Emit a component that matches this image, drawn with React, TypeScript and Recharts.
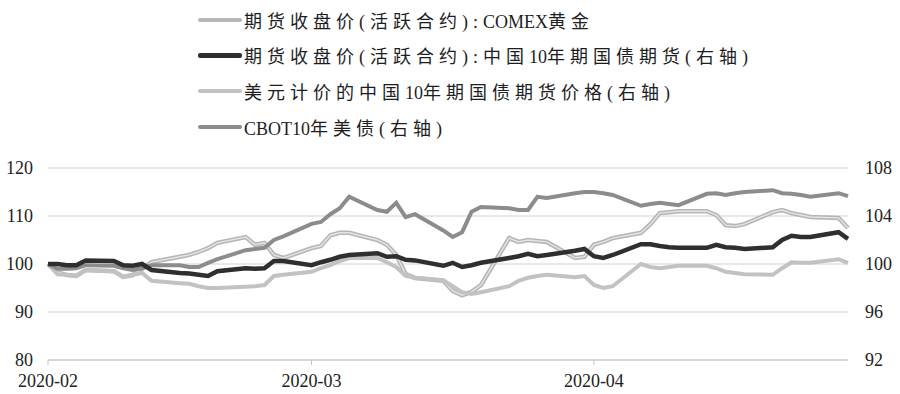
import { LineChart, Line, XAxis, YAxis, CartesianGrid } from 'recharts';

// trading days shown on the chart
const dates = [
  '2020-02-03', '2020-02-04', '2020-02-05', '2020-02-06', '2020-02-07',
  '2020-02-10', '2020-02-11', '2020-02-12', '2020-02-13', '2020-02-14',
  '2020-02-17', '2020-02-18', '2020-02-19', '2020-02-20', '2020-02-21',
  '2020-02-24', '2020-02-25', '2020-02-26', '2020-02-27', '2020-02-28',
  '2020-03-02', '2020-03-03', '2020-03-04', '2020-03-05', '2020-03-06',
  '2020-03-09', '2020-03-10', '2020-03-11', '2020-03-12', '2020-03-13',
  '2020-03-16', '2020-03-17', '2020-03-18', '2020-03-19', '2020-03-20',
  '2020-03-23', '2020-03-24', '2020-03-25', '2020-03-26', '2020-03-27',
  '2020-03-30', '2020-03-31',
  '2020-04-01', '2020-04-02', '2020-04-03',
  '2020-04-06', '2020-04-07', '2020-04-08', '2020-04-09', '2020-04-10',
  '2020-04-13', '2020-04-14', '2020-04-15', '2020-04-16', '2020-04-17',
  '2020-04-20', '2020-04-21', '2020-04-22', '2020-04-23', '2020-04-24',
  '2020-04-27', '2020-04-28',
];

// left axis
const comexGold = [
  100, 98.3, 97.7, 97.5, 98.75,
  98.5, 97.3, 97.7, 99.0, 100.4,
  101.5, 101.9, 102.5, 103.3, 104.4,
  105.6, 104.0, 104.4, 101.9, 101.25,
  103.3, 103.75, 106.0, 106.5, 106.5,
  105.0, 104.0, 101.9, 97.9, 97.1,
  96.5, 94.4, 93.5, 94.2, 95.6,
  105.4, 104.6, 105.0, 104.8, 104.6,
  101.25, 101.5,
  104.0, 104.6, 105.4,
  106.5, 108.3, 110.6, 110.8, 111.0,
  111.0, 110.2, 108.1, 107.9, 108.3,
  110.8, 111.25, 110.6, 110.2, 109.8,
  109.6, 107.5,
];

// right axis
const cnBondFut = [
  100.0, 100.0, 99.9, 99.9, 100.3,
  100.25, 99.9, 99.85, 100.0, 99.5,
  99.25, 99.2, 99.1, 99.0, 99.4,
  99.65, 99.6, 99.65, 100.25, 100.25,
  99.9, 100.15, 100.35, 100.6, 100.75,
  100.9, 100.6, 100.65, 100.35, 100.3,
  99.85, 100.1, 99.75, 99.9, 100.1,
  100.5, 100.65, 100.85, 100.65, 100.75,
  101.1, 101.25,
  100.65, 100.5, 100.75,
  101.65, 101.65, 101.5, 101.4, 101.35,
  101.35, 101.6, 101.4, 101.35, 101.25,
  101.4, 102.0, 102.35, 102.25, 102.25,
  102.65, 102.1,
];

const cnBondFutUsd = [
  100.0, 99.15, 99.1, 99.0, 99.5,
  99.4, 98.9, 99.1, 99.25, 98.6,
  98.4, 98.35, 98.15, 98.0, 98.0,
  98.1, 98.15, 98.25, 99.0, 99.1,
  99.35, 99.65, 99.9, 100.25, 100.5,
  100.5, 100.15, 99.75, 99.0, 98.85,
  98.65, 98.15, 97.65, 97.5, 97.65,
  98.15, 98.6, 98.85, 99.0, 99.1,
  98.9, 99.0,
  98.25, 98.0, 98.15,
  100.0, 99.75, 99.65, 99.75, 99.85,
  99.85, 99.65, 99.35, 99.25, 99.15,
  99.1, 99.65, 100.15, 100.1, 100.1,
  100.4, 100.1,
];

const cbotTNote = [
  100.0, 99.6, 99.6, 99.65, 99.9,
  99.85, 99.65, 99.5, 99.65, 99.9,
  99.9, 99.75, 99.75, 100.1, 100.4,
  101.15, 101.25, 101.35, 102.0, 102.3,
  103.35, 103.5, 104.15, 104.65, 105.6,
  104.5, 104.35, 105.1, 103.9, 104.15,
  102.8, 102.25, 102.65, 104.35, 104.75,
  104.65, 104.5, 104.5, 105.6, 105.5,
  105.9, 106.0,
  106.0, 105.9, 105.75,
  104.85, 105.0, 105.1, 105.0, 104.9,
  105.85, 105.9, 105.75, 105.9, 106.0,
  106.15, 105.9, 105.85, 105.75, 105.6,
  105.9, 105.65,
];

const monthStarts = ['2020-02-03', '2020-03-02', '2020-04-01'];
const leftTicks = [80, 90, 100, 110, 120];
const rightTicks = [92, 96, 100, 104, 108];

const seriesNames = [
  '期货收盘价(活跃合约):COMEX黄金',
  '期货收盘价(活跃合约):中国10年期国债期货(右轴)',
  '美元计价的中国10年期国债期货价格(右轴)',
  'CBOT10年美债(右轴)',
];
const seriesColors = ['#b6b6b6', '#2f2f2f', '#c2c2c2', '#8c8c8c'];

const FONT = '"Liberation Serif", "Noto Sans CJK SC", serif';
const DAY = 86400000;
const toDay = (d: string) => (Date.parse(d) - Date.parse(dates[0])) / DAY;

const chartData = dates.map((d, i) => ({
  day: toDay(d),
  gold: comexGold[i],
  cn: cnBondFut[i],
  cnUsd: cnBondFutUsd[i],
  cbot: cbotTNote[i],
}));

const monthTicks = monthStarts.map(toDay);
const monthLabel = (v: number) => {
  const idx = monthTicks.indexOf(v);
  return idx >= 0 ? monthStarts[idx].slice(0, 7) : '';
};

const tickStyle = { fontSize: 18, fill: '#222', fontFamily: FONT };

// wide spacing on CJK glyphs and brackets, plain latin letters/digits
function SpacedText({ text }: { text: string }) {
  const runs = text.match(/[A-Za-z0-9]+|[^A-Za-z0-9]+/g) ?? [];
  return (
    <span>
      {runs.map((r, i) => (
        <span key={i} style={{ letterSpacing: /[A-Za-z0-9]/.test(r) ? 0 : 5 }}>{r}</span>
      ))}
    </span>
  );
}

function ChartLegend() {
  const rowsY = [20, 55, 91, 127];
  return (
    <div style={{ position: 'absolute', left: 0, top: 0, fontFamily: FONT, fontSize: 18, color: '#1e1e1e' }}>
      {seriesNames.map((name, i) => (
        <div
          key={name}
          style={{
            position: 'absolute',
            left: 198,
            top: rowsY[i] - 12,
            height: 24,
            display: 'flex',
            alignItems: 'center',
            whiteSpace: 'nowrap',
          }}
        >
          <div style={{ width: 44, height: i === 1 ? 5 : 4, background: seriesColors[i], borderRadius: 2, marginRight: 2 }} />
          <SpacedText text={name} />
        </div>
      ))}
    </div>
  );
}

export default function App() {
  return (
    <div style={{ position: 'absolute', left: 0, top: 0, width: 900, height: 394, background: '#fff' }}>
      <LineChart width={900} height={394} data={chartData} margin={{ top: 168, right: 0, left: 0, bottom: 0 }}>
        <CartesianGrid yAxisId="left" vertical={false} stroke="#d2d2d2" />
        <XAxis
          dataKey="day"
          type="number"
          domain={['dataMin', 'dataMax']}
          ticks={monthTicks}
          tickFormatter={monthLabel}
          tick={tickStyle}
          axisLine={{ stroke: '#c4c4c4' }}
          tickLine={{ stroke: '#c4c4c4' }}
          tickSize={5}
          tickMargin={9}
          height={34}
        />
        <YAxis
          yAxisId="left"
          domain={[80, 120]}
          ticks={leftTicks}
          tick={tickStyle}
          axisLine={false}
          tickLine={false}
          width={48}
          tickMargin={9}
        />
        <YAxis
          yAxisId="right"
          orientation="right"
          domain={[92, 108]}
          ticks={rightTicks}
          tick={{ ...tickStyle, textAnchor: 'start' }}
          axisLine={false}
          tickLine={false}
          width={52}
          tickMargin={11}
        />
        <Line yAxisId="left" dataKey="gold" name={seriesNames[0]} stroke={seriesColors[0]} strokeWidth={4.5} dot={false} isAnimationActive={false} />
        <Line yAxisId="left" dataKey="gold" legendType="none" stroke="#e4e4e4" strokeWidth={1.4} dot={false} isAnimationActive={false} />
        <Line yAxisId="right" dataKey="cnUsd" name={seriesNames[2]} stroke={seriesColors[2]} strokeWidth={4} dot={false} isAnimationActive={false} />
        <Line yAxisId="right" dataKey="cbot" name={seriesNames[3]} stroke={seriesColors[3]} strokeWidth={4} dot={false} isAnimationActive={false} />
        <Line yAxisId="right" dataKey="cn" name={seriesNames[1]} stroke={seriesColors[1]} strokeWidth={4.5} dot={false} isAnimationActive={false} />
      </LineChart>
      <ChartLegend />
    </div>
  );
}
